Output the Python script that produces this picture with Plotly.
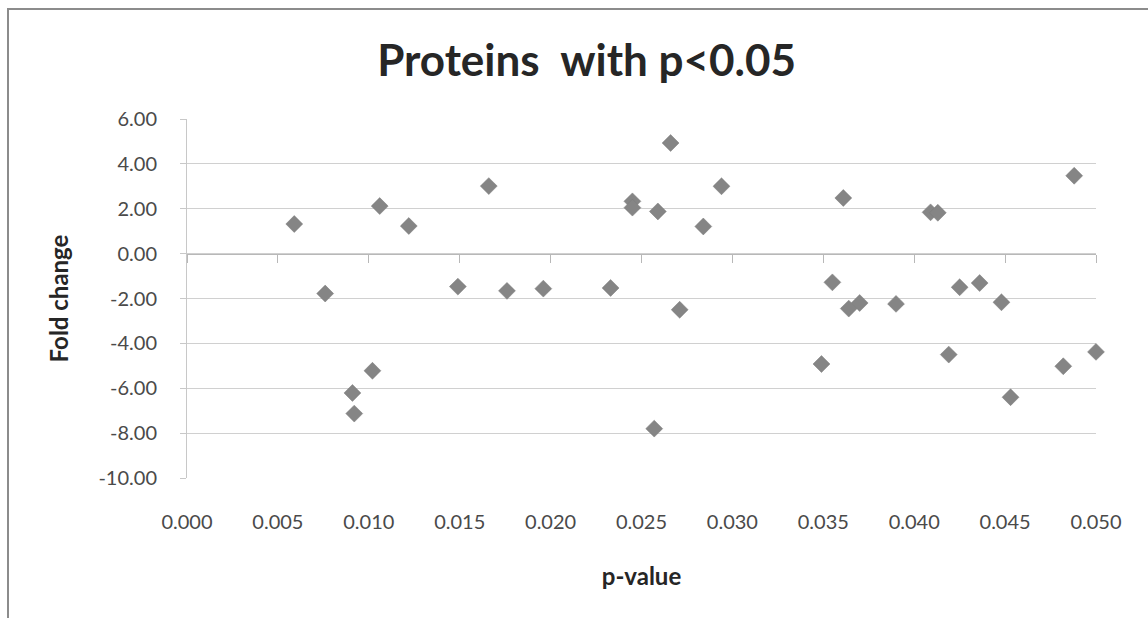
import plotly.graph_objects as go

# Data
p_values = [0.0059, 0.0076, 0.0091, 0.0092, 0.0102, 0.0106, 0.0122, 0.0149, 0.0166, 0.0176,
            0.0196, 0.0233, 0.0245, 0.0245, 0.0259, 0.0257, 0.0266, 0.0271, 0.0284, 0.0294,
            0.0349, 0.0355, 0.0361, 0.0364, 0.0370, 0.0390, 0.0409, 0.0413, 0.0419, 0.0425,
            0.0436, 0.0448, 0.0453, 0.0482, 0.0488, 0.0500]
fold_change = [1.32, -1.78, -6.21, -7.13, -5.22, 2.12, 1.23, -1.47, 3.01, -1.66,
               -1.56, -1.53, 2.33, 2.05, 1.88, -7.80, 4.93, -2.50, 1.21, 3.00,
               -4.92, -1.28, 2.48, -2.45, -2.20, -2.24, 1.84, 1.82, -4.50, -1.50,
               -1.31, -2.17, -6.40, -5.02, 3.47, -4.38]

x_ticks = [0.000, 0.005, 0.010, 0.015, 0.020, 0.025, 0.030, 0.035, 0.040, 0.045, 0.050]
x_tick_labels = ["0.000", "0.005", "0.010", "0.015", "0.020", "0.025", "0.030", "0.035", "0.040", "0.045", "0.050"]
y_ticks = [6, 4, 2, 0, -2, -4, -6, -8, -10]
y_tick_labels = ["6.00", "4.00", "2.00", "0.00", "-2.00", "-4.00", "-6.00", "-8.00", "-10.00"]

FONT = "Lato"
TXT = "#4a4a4a"
GRID = "#d0d0d0"

fig = go.Figure()
fig.add_trace(go.Scatter(
    x=p_values, y=fold_change, mode="markers",
    marker=dict(symbol="diamond", size=13, color="#858585",
                line=dict(width=0.5, color="#7a7a7a")),
    cliponaxis=False, showlegend=False, hoverinfo="x+y",
))
# invisible trace to activate the zero-crossing axis
fig.add_trace(go.Scatter(x=[x_ticks[0], x_ticks[-1]], y=[0, 0], xaxis="x2",
                         mode="markers", marker=dict(opacity=0), showlegend=False,
                         hoverinfo="skip"))

fig.update_layout(
    width=1148, height=618,
    margin=dict(l=187, r=52, t=119, b=140),
    paper_bgcolor="white", plot_bgcolor="white",
    font=dict(family=FONT, color=TXT),
    title=dict(text="<b>Proteins  with p&lt;0.05</b>", xref="container", yref="container",
               x=0.511, y=1 - 61 / 618, xanchor="center", yanchor="middle",
               font=dict(family=FONT, size=44, color="#262626")),
    xaxis=dict(range=[0, 0.05], tickvals=x_ticks, ticktext=x_tick_labels,
               showgrid=False, zeroline=False, showline=False, ticks="",
               ticklabelstandoff=30, tickfont=dict(size=20, color=TXT),
               title=dict(text="<b>p-value</b>", font=dict(size=24, color="#262626"), standoff=36)),
    xaxis2=dict(range=[0, 0.05], tickvals=x_ticks, overlaying="x", anchor="free",
                position=10 / 16, side="bottom", showticklabels=False, showgrid=False,
                zeroline=False, showline=True, linecolor="#b8b8b8", linewidth=1,
                ticks="outside", ticklen=8, tickcolor="#b8b8b8", tickwidth=1),
    yaxis=dict(range=[-10, 6], tickvals=y_ticks, ticktext=y_tick_labels,
               showgrid=True, gridcolor=GRID, gridwidth=1, zeroline=False,
               showline=True, linecolor="#c8c8c8", linewidth=1,
               ticks="outside", ticklen=6, tickcolor="#c8c8c8",
               ticklabelstandoff=19, tickfont=dict(size=20, color=TXT),
               title=dict(text="<b>Fold change</b>", font=dict(size=24, color="#262626"), standoff=23)),
    shapes=[dict(type="rect", xref="paper", yref="paper",
                 x0=(8 - 187) / 909, x1=1.2, y0=-0.5, y1=(478 - 9) / 359,
                 line=dict(color="#8c8c8c", width=2), fillcolor="rgba(0,0,0,0)", layer="below")],
)

fig.write_html("out.html")
